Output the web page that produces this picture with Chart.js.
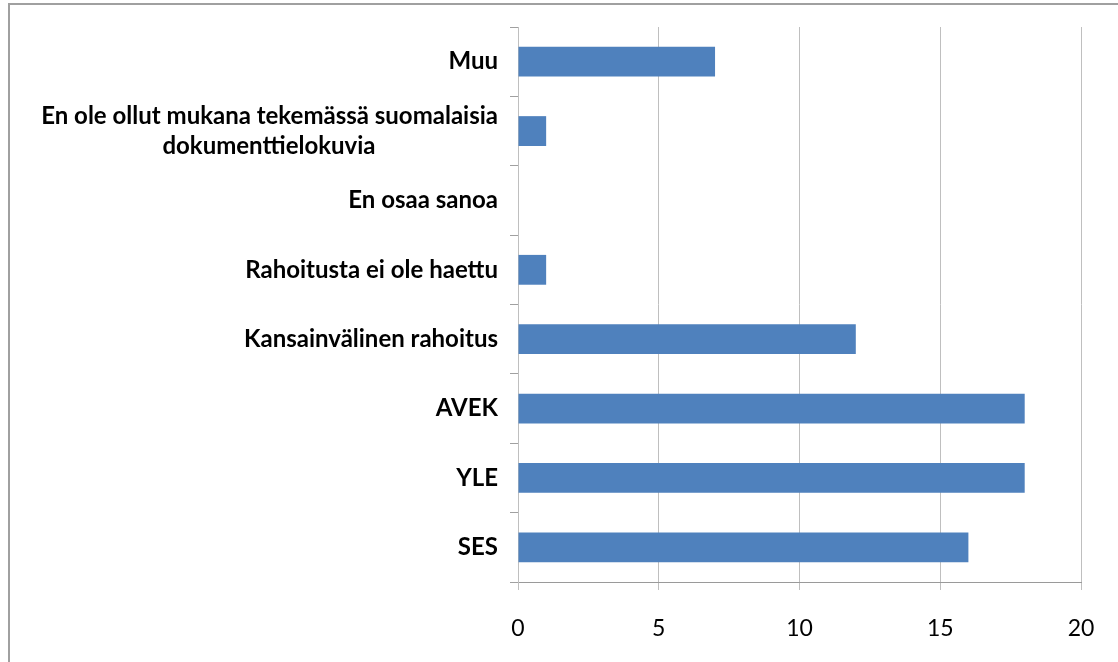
<!DOCTYPE html>
<html><head><meta charset="utf-8">
<script src="https://cdn.jsdelivr.net/npm/chart.js@4.4.1/dist/chart.umd.min.js"></script>
<style>
html,body{margin:0;padding:0;background:#fff;overflow:hidden;}
#frame{position:absolute;left:8px;top:3px;width:1200px;height:700px;border:2px solid #a0a0a0;}
#wrap{position:absolute;left:0;top:0;width:1118px;height:662px;}
</style></head>
<body>
<div id="frame"></div>
<div id="wrap"><canvas id="c" width="1118" height="662"></canvas></div>
<script>
const categories = [
  "Muu",
  ["En ole ollut mukana tekemässä suomalaisia", "dokumenttielokuvia                     "],
  "En osaa sanoa",
  "Rahoitusta ei ole haettu",
  "Kansainvälinen rahoitus",
  "AVEK",
  "YLE",
  "SES"
];
const values = [7, 1, 0, 1, 12, 18, 18, 16];
const xTicks = [0, 5, 10, 15, 20];

new Chart(document.getElementById('c'), {
  type: 'bar',
  data: {
    labels: categories,
    datasets: [{ data: values, backgroundColor: '#4f81bd', borderWidth: 0,
      barPercentage: 0.86, categoryPercentage: 0.5 }]
  },
  options: {
    indexAxis: 'y',
    responsive: false,
    animation: false,
    plugins: { legend: { display: false }, tooltip: { enabled: false } },
    layout: { padding: { top: 24, right: 37, left: 0, bottom: 0 } },
    scales: {
      x: {
        min: 0, max: 20,
        afterBuildTicks: s => { s.ticks = xTicks.map(v => ({ value: v })); },
        grid: { color: '#bfbfbf', lineWidth: 1, tickLength: 8, drawTicks: true },
        border: { color: '#9a9a9a', width: 1 },
        ticks: { color: '#000', padding: 25, font: { family: 'Lato', size: 23 } },
        afterFit: s => { s.height = 662 - 582; s.paddingRight = 0; }
      },
      y: {
        grid: { drawOnChartArea: false, color: '#a0a0a0', tickLength: 8 },
        border: { color: '#bfbfbf', width: 1 },
        ticks: { color: '#000', padding: 12, font: { family: 'Lato', size: 24, weight: 'bold', lineHeight: 1.25 } },
        afterFit: s => { s.width = 518; }
      }
    }
  }
});
</script>
</body></html>
